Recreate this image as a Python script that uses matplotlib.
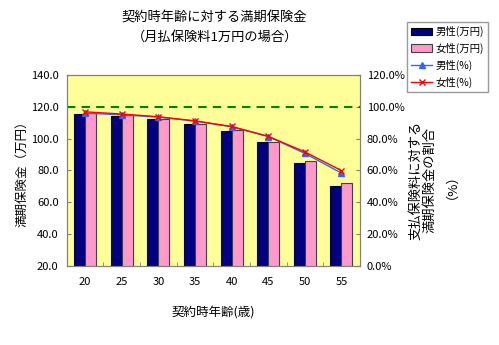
import matplotlib.pyplot as plt
import numpy as np

plt.rcParams['font.family'] = ['Noto Sans CJK JP', 'DejaVu Sans']

# --- データ ---
ages = ['20', '25', '30', '35', '40', '45', '50', '55']
male_amount = [115.2, 113.9, 112.2, 109.2, 104.9, 97.6, 84.8, 70.0]
female_amount = [116.1, 114.5, 112.4, 109.3, 105.1, 97.7, 85.9, 71.9]
male_pct = [96.0, 94.9, 93.5, 91.0, 87.4, 81.3, 70.7, 58.3]
female_pct = [96.8, 95.4, 93.7, 91.1, 87.6, 81.4, 71.6, 59.9]
ref_pct = 100.0

fig = plt.figure(figsize=(4.99, 3.45), dpi=100)
ax = fig.add_axes([0.134, 0.229, 0.587, 0.554])
ax.set_facecolor('#FFFF99')

x = np.arange(len(ages))
w = 0.3
b1 = ax.bar(x - w / 2, male_amount, width=w, color='#000080', edgecolor='black', linewidth=0.8, label='男性(万円)')
b2 = ax.bar(x + w / 2, female_amount, width=w, color='#FF99CC', edgecolor='#404040', linewidth=0.8, label='女性(万円)')
ax.set_ylim(20, 140)
ax.set_yticks(np.arange(20, 141, 20))
ax.set_yticklabels([f'{v:.1f}' for v in range(20, 141, 20)])
ax.set_xlim(-0.5, len(ages) - 0.5)
ax.set_xticks(x)
ax.set_xticklabels(ages)
ax.set_xticks(np.arange(-0.5, len(ages), 1), minor=True)
ax.tick_params(axis='x', which='major', length=0, pad=8, labelsize=8)
ax.tick_params(axis='x', which='minor', direction='in', length=3, color='#808080')
ax.tick_params(axis='y', direction='in', length=3, color='#808080', labelsize=8, pad=6)
for s in ax.spines.values():
    s.set_color('#808080')

ax2 = ax.twinx()
ax2.set_ylim(0, 120)
ax2.set_yticks(np.arange(0, 121, 20))
ax2.set_yticklabels([f'{v:.1f}%' for v in range(0, 121, 20)])
ax2.tick_params(axis='y', direction='in', length=3, color='#808080', labelsize=8, pad=5)
ax2.axhline(ref_pct, color='#008000', linestyle=(0, (4, 3)), linewidth=1.5)
l1, = ax2.plot(x, male_pct, color='#3366FF', marker='^', markersize=4, linewidth=1, label='男性(%)')
l2, = ax2.plot(x, female_pct, color='#FF0000', marker='x', markersize=4, linewidth=1, label='女性(%)')
for s in ax2.spines.values():
    s.set_color('#808080')

fig.text(0.43, 0.965, '契約時年齢に対する満期保険金', ha='center', va='top', fontsize=9.5)
fig.text(0.43, 0.912, '（月払保険料1万円の場合）', ha='center', va='top', fontsize=9.5)
ax.set_xlabel('契約時年齢(歳)', fontsize=9, labelpad=14)
fig.text(0.044, 0.505, '満期保険金（万円）', rotation=90, ha='center', va='center', fontsize=9)
fig.text(0.862, 0.478, '支払保険料に対する\n満期保険金の割合\n（%）', rotation=90,
         ha='center', va='center', fontsize=9.5, linespacing=1.15)

leg = fig.legend(handles=[b1, b2, l1, l2], loc='upper left', bbox_to_anchor=(0.816, 0.937),
                 fontsize=7.5, frameon=True, fancybox=False, edgecolor='#808080',
                 handlelength=2.0, handletextpad=0.3, borderpad=0.4, labelspacing=0.55,
                 borderaxespad=0)
leg.get_frame().set_linewidth(1)

fig.savefig('out.png', dpi=100)
